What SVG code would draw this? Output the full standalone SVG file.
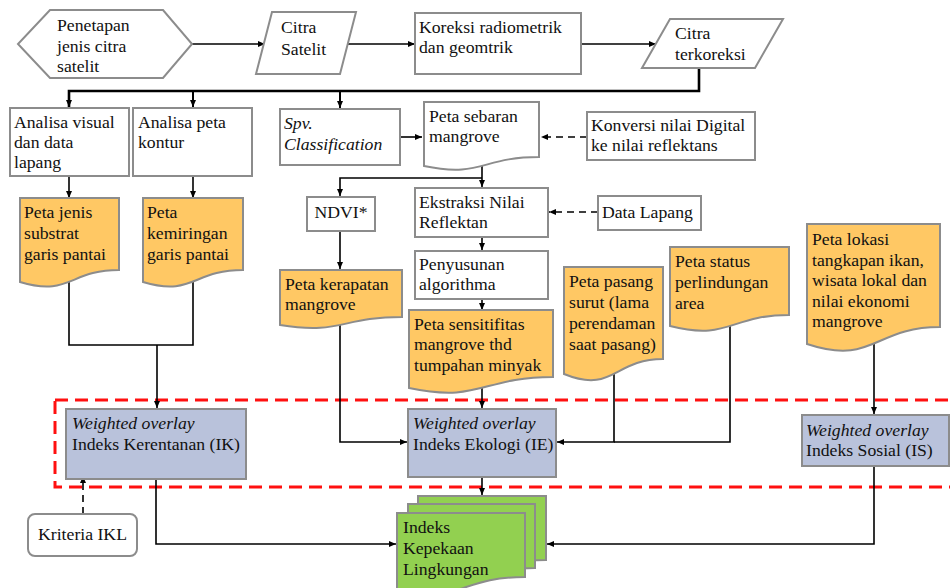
<svg xmlns="http://www.w3.org/2000/svg" width="950" height="588" viewBox="0 0 950 588">
<defs>
<marker id="ah" markerWidth="7" markerHeight="6" refX="7" refY="3" orient="auto" markerUnits="userSpaceOnUse"><path d="M0,0 L7,3 L0,6 Z" fill="#000"/></marker>
<style>
.t{font-family:"Liberation Serif","DejaVu Serif",serif;font-size:17.7px;fill:#111}
.i{font-style:italic}
.box{fill:#fff;stroke:#8c8c8c;stroke-width:2}
.doc{fill:#ffc864;stroke:#8c8c8c;stroke-width:2}
.wo{fill:#b9c2db;stroke:#8c8c8c;stroke-width:2}
.gr{fill:#92d050;stroke:#8c8c8c;stroke-width:2}
.c{fill:none;stroke:#000;stroke-width:1.6}
.d{fill:none;stroke:#000;stroke-width:1.6;stroke-dasharray:7 5}
</style>
</defs>
<rect width="950" height="588" fill="#fff"/>

<g id="region">
<rect x="55" y="400" width="910" height="87" fill="none" stroke="#ff1010" stroke-width="3" stroke-dasharray="13 7"/>
</g>

<g id="connectors">
<path class="c" d="M192,44 H265" marker-end="url(#ah)"/>
<path class="c" d="M348,44 H415" marker-end="url(#ah)"/>
<path class="c" d="M581,44 H656" marker-end="url(#ah)"/>
<path class="c" style="stroke-width:2.6" d="M699,68 V91 H69 V107" marker-end="url(#ah)"/>
<path class="c" style="stroke-width:2" d="M193,91 V107" marker-end="url(#ah)"/>
<path class="c" style="stroke-width:2" d="M340,91 V108" marker-end="url(#ah)"/>
<path class="c" d="M69,176 V198" marker-end="url(#ah)"/>
<path class="c" d="M193,176 V198" marker-end="url(#ah)"/>
<path class="c" d="M400,137 H422" marker-end="url(#ah)"/>
<path class="d" d="M587,137 H541" marker-end="url(#ah)"/>
<path class="c" d="M482,165 V187" marker-end="url(#ah)"/>
<path class="c" d="M482,178 H340 V196" marker-end="url(#ah)"/>
<path class="d" d="M598,212 H549" marker-end="url(#ah)"/>
<path class="c" d="M482,237 V250" marker-end="url(#ah)"/>
<path class="c" d="M482,299 V310" marker-end="url(#ah)"/>
<path class="c" d="M340,231 V269" marker-end="url(#ah)"/>
<path class="c" d="M340,323 V442 H407" marker-end="url(#ah)"/>
<path class="c" d="M482,386 V408" marker-end="url(#ah)"/>
<path class="c" d="M614,372 V442 H557" marker-end="url(#ah)"/>
<path class="c" d="M730,325 V442 H614"/>
<path class="c" d="M874,344 V414" marker-end="url(#ah)"/>
<path class="c" d="M69,282 V345 H193 V270"/>
<path class="c" d="M157,345 V408" marker-end="url(#ah)"/>
<path class="d" d="M83,514 V476" marker-end="url(#ah)"/>
<path class="c" d="M156,479 V544 H396" marker-end="url(#ah)"/>
<path class="c" d="M482,477 V495" marker-end="url(#ah)"/>
<path class="c" d="M874,466 V544 H547" marker-end="url(#ah)"/>
</g>

<g id="penetapan">
<path class="box" d="M50,10 H163 L192,44 L163,78 H50 L18,44 Z"/>
<text class="t" x="57" y="31">Penetapan</text>
<text class="t" x="57" y="52">jenis citra</text>
<text class="t" x="57" y="72">satelit</text>
</g>
<g id="citra-satelit">
<path class="box" d="M272,12 H356 L340,74 H256 Z"/>
<text class="t" x="281" y="33">Citra</text>
<text class="t" x="281" y="55">Satelit</text>
</g>
<g id="koreksi">
<rect class="box" x="415" y="13" width="166" height="61"/>
<text class="t" x="419" y="33">Koreksi radiometrik</text>
<text class="t" x="419" y="53">dan geomtrik</text>
</g>
<g id="citra-terkoreksi">
<path class="box" d="M670,19 H783 L755,68 H642 Z"/>
<text class="t" x="675" y="39">Citra</text>
<text class="t" x="675" y="60">terkoreksi</text>
</g>

<g id="analisa-visual">
<rect class="box" x="10" y="108" width="119" height="68"/>
<text class="t" x="14" y="128">Analisa visual</text>
<text class="t" x="14" y="148">dan data</text>
<text class="t" x="14" y="168">lapang</text>
</g>
<g id="analisa-peta">
<rect class="box" x="133" y="108" width="119" height="68"/>
<text class="t" x="138" y="128">Analisa peta</text>
<text class="t" x="138" y="148">kontur</text>
</g>
<g id="spv">
<rect class="box" x="280" y="109" width="120" height="56"/>
<text class="t i" x="284" y="129">Spv.</text>
<text class="t i" x="284" y="150">Classification</text>
</g>
<g id="peta-sebaran">
<path class="box" d="M424,102 H539 V157 C481.5,157 481.5,178 424,166 Z"/>
<text class="t" x="429" y="122">Peta sebaran</text>
<text class="t" x="429" y="142">mangrove</text>
</g>
<g id="konversi">
<rect class="box" x="587" y="112" width="168" height="48"/>
<text class="t" x="591" y="131">Konversi nilai Digital</text>
<text class="t" x="591" y="151">ke nilai reflektans</text>
</g>

<g id="peta-jenis">
<path class="doc" d="M20,198 H119 V270 C69.5,270 69.5,297 20,282 Z"/>
<text class="t" x="24" y="218">Peta jenis</text>
<text class="t" x="24" y="239">substrat</text>
<text class="t" x="24" y="260">garis pantai</text>
</g>
<g id="peta-kemiringan">
<path class="doc" d="M143,198 H243 V270 C193,270 193,297 143,282 Z"/>
<text class="t" x="147" y="218">Peta</text>
<text class="t" x="147" y="239">kemiringan</text>
<text class="t" x="147" y="260">garis pantai</text>
</g>
<g id="ndvi">
<rect class="box" x="307" y="197" width="68" height="34"/>
<text class="t" x="341" y="218" text-anchor="middle">NDVI*</text>
</g>
<g id="ekstraksi">
<rect class="box" x="415" y="188" width="133" height="49"/>
<text class="t" x="419" y="208">Ekstraksi Nilai</text>
<text class="t" x="419" y="228">Reflektan</text>
</g>
<g id="data-lapang">
<rect class="box" x="598" y="196" width="103" height="34"/>
<text class="t" x="602" y="218">Data Lapang</text>
</g>
<g id="penyusunan">
<rect class="box" x="415" y="251" width="133" height="48"/>
<text class="t" x="419" y="270">Penyusunan</text>
<text class="t" x="419" y="290">algorithma</text>
</g>
<g id="peta-kerapatan">
<path class="doc" d="M280,270 H402 V317 C341,317 341,335 280,325 Z"/>
<text class="t" x="285" y="290">Peta kerapatan</text>
<text class="t" x="285" y="310">mangrove</text>
</g>
<g id="peta-sensitifitas">
<path class="doc" d="M409,310 H553 V377 C481,377 481,403 409,388 Z"/>
<text class="t" x="414" y="330">Peta sensitifitas</text>
<text class="t" x="414" y="350">mangrove thd</text>
<text class="t" x="414" y="371">tumpahan minyak</text>
</g>
<g id="peta-pasang">
<path class="doc" d="M564,267 H663 V359 C613.5,359 613.5,394 564,374 Z"/>
<text class="t" x="569" y="287">Peta pasang</text>
<text class="t" x="569" y="308">surut (lama</text>
<text class="t" x="569" y="329">perendaman</text>
<text class="t" x="569" y="350">saat pasang)</text>
</g>
<g id="peta-status">
<path class="doc" d="M670,247 H789 V315 C729.5,315 729.5,341 670,326 Z"/>
<text class="t" x="675" y="267">Peta status</text>
<text class="t" x="675" y="288">perlindungan</text>
<text class="t" x="675" y="309">area</text>
</g>
<g id="peta-lokasi">
<path class="doc" d="M807,224 H940 V327 C873.5,327 873.5,366 807,344 Z"/>
<text class="t" x="812" y="245">Peta lokasi</text>
<text class="t" x="812" y="266">tangkapan ikan,</text>
<text class="t" x="812" y="286">wisata lokal dan</text>
<text class="t" x="812" y="307">nilai ekonomi</text>
<text class="t" x="812" y="327">mangrove</text>
</g>

<g id="ik">
<rect class="wo" x="66" y="409" width="180" height="70"/>
<text class="t i" x="72" y="429">Weighted overlay</text>
<text class="t" x="72" y="450">Indeks Kerentanan (IK)</text>
</g>
<g id="ie">
<rect class="wo" x="408" y="409" width="148" height="68"/>
<text class="t i" x="413" y="429">Weighted overlay</text>
<text class="t" x="413" y="450">Indeks Ekologi (IE)</text>
</g>
<g id="is">
<rect class="wo" x="802" y="415" width="147" height="51"/>
<text class="t i" x="806" y="436">Weighted overlay</text>
<text class="t" x="806" y="456">Indeks Sosial (IS)</text>
</g>
<g id="kriteria">
<rect class="box" x="28" y="514" width="109" height="42" rx="7"/>
<text class="t" x="82.5" y="540" text-anchor="middle">Kriteria IKL</text>
</g>
<g id="indeks-kepekaan">
<path class="gr" d="M418,496 H546 V560 C482,560 482,586 418,576 Z"/>
<path class="gr" d="M408,504 H535 V568 C471.5,568 471.5,594 408,584 Z"/>
<path class="gr" d="M397,513 H525 V577 C461,577 461,603 397,593 Z"/>
<text class="t" x="403" y="533">Indeks</text>
<text class="t" x="403" y="554">Kepekaan</text>
<text class="t" x="403" y="575">Lingkungan</text>
</g>
</svg>
